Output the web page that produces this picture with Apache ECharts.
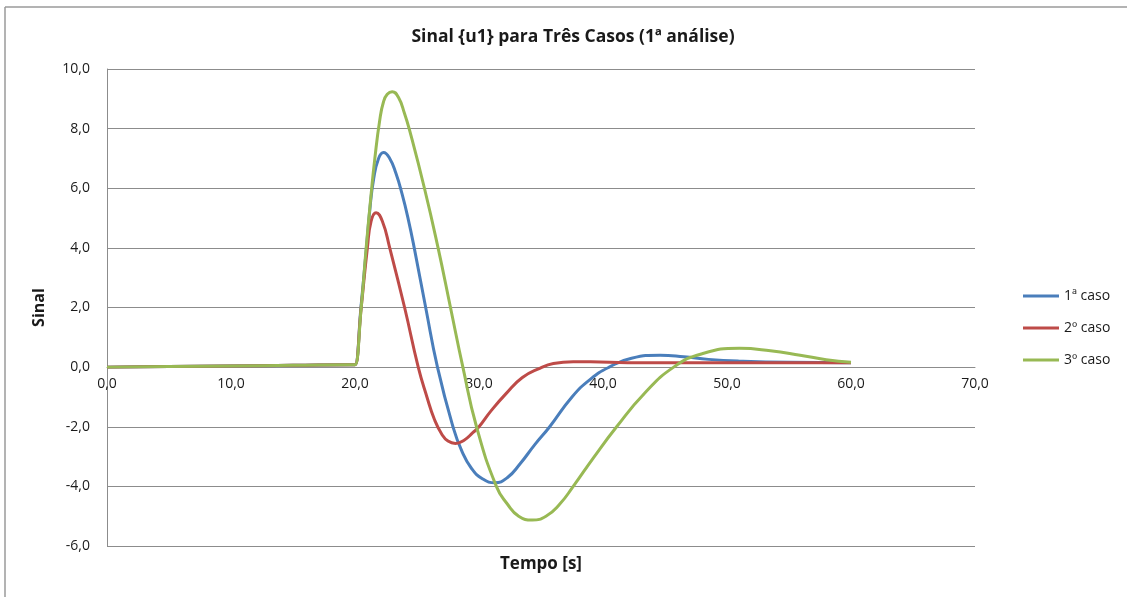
<!DOCTYPE html>
<html>
<head>
<meta charset="utf-8">
<script src="https://cdn.jsdelivr.net/npm/echarts@6/dist/echarts.min.js"></script>
<style>
  html, body { margin: 0; padding: 0; background: #ffffff; }
  #chart { width: 1127px; height: 597px; }
</style>
</head>
<body>
<div id="chart"></div>
<script>
// Signal u1 over time [s] for three cases (1st analysis)
const titleText = 'Sinal {u1} para Três Casos (1ª análise)';
const seriesNames = ['1ª caso', '2º caso', '3º caso'];
const xTicks = [0, 10, 20, 30, 40, 50, 60, 70];
const yTicks = [-6, -4, -2, 0, 2, 4, 6, 8, 10];

// case 1: [time, signal]
const caso1 = [
  [0, 0.0], [5, 0.02], [10, 0.04], [15, 0.06], [19.9, 0.08], [20, 0.08],
  [20.5, 2.1], [20.9, 3.9], [21.2, 5.3], [21.5, 6.3], [21.9, 7.0], [22.3, 7.2],
  [22.8, 7.0], [23.3, 6.5], [23.8, 5.8], [24.3, 4.95], [24.8, 3.95], [25.7, 2.0], [26.65, 0.0],
  [27.9, -2.0], [28.6, -2.8], [29.4, -3.4], [30.3, -3.75], [31.3, -3.88], [32.3, -3.7],
  [33.3, -3.25], [34.5, -2.6], [35.7, -2.0], [37.5, -1.0], [39.0, -0.4], [40.5, 0.0],
  [42.3, 0.3], [44.6, 0.4], [46.5, 0.35], [48.5, 0.26], [51.0, 0.2], [55.0, 0.16], [60.0, 0.15]
];

// case 2: [time, signal]
const caso2 = [
  [0, 0.0], [5, 0.02], [10, 0.04], [15, 0.06], [19.9, 0.08], [20, 0.08],
  [20.5, 2.0], [21.0, 4.0], [21.3, 4.9], [21.7, 5.18], [22.2, 4.9],
  [22.8, 4.0], [24.0, 2.0], [25.1, 0.0], [25.8, -1.0], [26.4, -1.75],
  [27.0, -2.25], [27.5, -2.48], [28.1, -2.56], [28.8, -2.45], [29.5, -2.2],
  [30.0, -2.0], [31.0, -1.45], [32.2, -0.88], [33.5, -0.35], [34.9, -0.04],
  [36.0, 0.12], [37.6, 0.18], [39.0, 0.18], [42.0, 0.15], [50.0, 0.15], [60.0, 0.15]
];

// case 3: [time, signal]
const caso3 = [
  [0, 0.0], [5, 0.02], [10, 0.04], [15, 0.06], [19.9, 0.08], [20, 0.08],
  [20.5, 2.0], [20.9, 4.0], [21.3, 5.8], [21.6, 7.0], [22.0, 8.3], [22.3, 8.9],
  [22.6, 9.15], [23.0, 9.24], [23.5, 9.05], [24.0, 8.5], [24.4, 7.95], [25.6, 6.0], [26.7, 4.0],
  [27.7, 2.0], [28.7, 0.0], [29.8, -2.0], [31.4, -4.0], [32.3, -4.6], [33.2, -5.0],
  [34.3, -5.13], [35.4, -5.0], [36.5, -4.6], [37.6, -4.0], [39.3, -3.0], [41.1, -2.0],
  [43.3, -0.9], [45.7, 0.0], [48.0, 0.45], [51.0, 0.63], [53.5, 0.55],
  [55.9, 0.4], [58.0, 0.25], [60.0, 0.16]
];

const colors = ['#4A7EBB', '#BE4B48', '#98B954'];
const FONT = '"Open Sans", Lato, sans-serif';
const fmt = v => v.toFixed(1).replace('.', ',');

const chart = echarts.init(document.getElementById('chart'), null, { renderer: 'canvas' });

const mkSeries = (name, data, color) => ({
  name: name,
  type: 'line',
  data: data,
  smooth: 0.5,
  showSymbol: false,
  symbol: 'none',
  lineStyle: { color: color, width: 3 },
  itemStyle: { color: color },
  z: 3
});

// plot area: y from -6 (bottom) to 10 (top); the time axis sits on the zero line
const gridTop = 69, gridBottom = 51, gridHeight = 597 - gridTop - gridBottom;
const zeroOffset = -gridHeight * (0 - yTicks[0]) / (yTicks[yTicks.length - 1] - yTicks[0]);

chart.setOption({
  animation: false,
  backgroundColor: '#ffffff',
  color: colors,
  title: {
    text: titleText,
    left: 568,
    textAlign: 'center',
    top: 23,
    textStyle: { fontFamily: FONT, fontSize: 17.5, fontWeight: 'bold', color: '#1a1a1a' }
  },
  legend: {
    orient: 'vertical',
    left: 1018,
    top: 283,
    itemWidth: 36,
    itemHeight: 3,
    itemGap: 16,
    icon: 'rect',
    textStyle: { fontFamily: FONT, fontSize: 14, lineHeight: 16, color: '#1a1a1a' },
    data: seriesNames
  },
  grid: { left: 107, right: 152, top: gridTop, bottom: gridBottom, outerBoundsMode: 'none', containLabel: false },
  xAxis: {
    type: 'value',
    min: xTicks[0],
    max: xTicks[xTicks.length - 1],
    interval: 10,
    offset: zeroOffset,
    name: 'Tempo [s]',
    nameLocation: 'middle',
    nameGap: 189,
    nameTextStyle: { fontFamily: FONT, fontSize: 17, fontWeight: 'bold', color: '#1a1a1a' },
    axisLine: { onZero: false, lineStyle: { color: '#8c8c8c', width: 1 } },
    axisTick: { show: false },
    splitLine: { show: false },
    axisLabel: { fontFamily: FONT, fontSize: 14, color: '#1a1a1a', margin: 10, formatter: fmt }
  },
  yAxis: {
    type: 'value',
    min: yTicks[0],
    max: yTicks[yTicks.length - 1],
    interval: 2,
    name: 'Sinal',
    nameLocation: 'middle',
    nameGap: 60,
    nameRotate: 90,
    nameTextStyle: { fontFamily: FONT, fontSize: 16, fontWeight: 'bold', color: '#1a1a1a' },
    axisLine: { show: true, lineStyle: { color: '#8c8c8c', width: 1 } },
    axisTick: { show: false },
    splitLine: { show: true, lineStyle: { color: '#8c8c8c', width: 1 } },
    axisLabel: { fontFamily: FONT, fontSize: 14, color: '#1a1a1a', margin: 17, formatter: fmt }
  },
  graphic: [
    { type: 'line', shape: { x1: 5, y1: 7, x2: 1127, y2: 7 }, style: { stroke: '#9a9a9a', lineWidth: 1.5 } },
    { type: 'line', shape: { x1: 5, y1: 7, x2: 5, y2: 597 }, style: { stroke: '#9a9a9a', lineWidth: 1.5 } }
  ],
  series: [
    mkSeries(seriesNames[0], caso1, colors[0]),
    mkSeries(seriesNames[1], caso2, colors[1]),
    mkSeries(seriesNames[2], caso3, colors[2])
  ]
});
</script>
</body>
</html>
